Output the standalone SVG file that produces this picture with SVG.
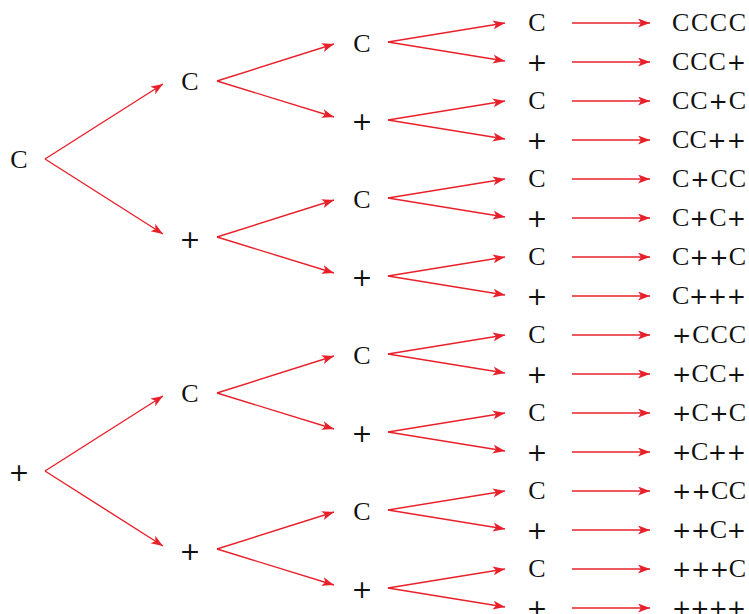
<svg xmlns="http://www.w3.org/2000/svg" width="749" height="614" viewBox="0 0 749 614">
<style>
text{font-family:"Liberation Serif","Times New Roman",serif;font-size:26px;fill:#111;}
.n text{text-anchor:middle;}
.p{font-family:"DejaVu Sans","Liberation Sans",sans-serif;font-size:25px;}
.q{font-family:"DejaVu Sans","Liberation Sans",sans-serif;font-size:23px;}
.a line{stroke:#e8202a;stroke-width:1.4;fill:none;marker-end:url(#ah);}
</style>
<defs>
<marker id="ah" markerUnits="userSpaceOnUse" markerWidth="14" markerHeight="10" refX="12" refY="4.5" orient="auto">
<path d="M0,0 L12,4.5 L0,9 L3,4.5 Z" fill="#e8202a"/>
</marker>
</defs>
<rect width="749" height="614" fill="#fff"/>
<g id="connectors" class="a">
<line x1="45" y1="159" x2="163" y2="84"/>
<line x1="45" y1="159" x2="163" y2="234"/>
<line x1="45" y1="471" x2="163" y2="396"/>
<line x1="45" y1="471" x2="163" y2="546"/>
<line x1="217" y1="81" x2="334" y2="44"/>
<line x1="217" y1="81" x2="334" y2="117"/>
<line x1="217" y1="237" x2="334" y2="200"/>
<line x1="217" y1="237" x2="334" y2="273"/>
<line x1="217" y1="393" x2="334" y2="356"/>
<line x1="217" y1="393" x2="334" y2="429"/>
<line x1="217" y1="549" x2="334" y2="512"/>
<line x1="217" y1="549" x2="334" y2="585"/>
<line x1="388" y1="42" x2="505" y2="23"/>
<line x1="388" y1="42" x2="505" y2="61"/>
<line x1="388" y1="120" x2="505" y2="101"/>
<line x1="388" y1="120" x2="505" y2="139"/>
<line x1="388" y1="198" x2="505" y2="179"/>
<line x1="388" y1="198" x2="505" y2="217"/>
<line x1="388" y1="276" x2="505" y2="257"/>
<line x1="388" y1="276" x2="505" y2="295"/>
<line x1="388" y1="354" x2="505" y2="335"/>
<line x1="388" y1="354" x2="505" y2="373"/>
<line x1="388" y1="432" x2="505" y2="413"/>
<line x1="388" y1="432" x2="505" y2="451"/>
<line x1="388" y1="510" x2="505" y2="491"/>
<line x1="388" y1="510" x2="505" y2="529"/>
<line x1="388" y1="588" x2="505" y2="569"/>
<line x1="388" y1="588" x2="505" y2="607"/>
<line x1="572" y1="23" x2="650" y2="23"/>
<line x1="572" y1="62" x2="650" y2="62"/>
<line x1="572" y1="101" x2="650" y2="101"/>
<line x1="572" y1="140" x2="650" y2="140"/>
<line x1="572" y1="179" x2="650" y2="179"/>
<line x1="572" y1="218" x2="650" y2="218"/>
<line x1="572" y1="257" x2="650" y2="257"/>
<line x1="572" y1="296" x2="650" y2="296"/>
<line x1="572" y1="335" x2="650" y2="335"/>
<line x1="572" y1="374" x2="650" y2="374"/>
<line x1="572" y1="413" x2="650" y2="413"/>
<line x1="572" y1="452" x2="650" y2="452"/>
<line x1="572" y1="491" x2="650" y2="491"/>
<line x1="572" y1="530" x2="650" y2="530"/>
<line x1="572" y1="569" x2="650" y2="569"/>
<line x1="572" y1="608" x2="650" y2="608"/>
</g>
<g class="n">
<g id="n0-C"><text x="19" y="168">C</text></g>
<g id="n0-P"><text class="p" x="19" y="481">+</text></g>
<g id="n1-C"><text x="190" y="90">C</text></g>
<g id="n1-CP"><text class="p" x="190" y="248">+</text></g>
<g id="n1-PC"><text x="190" y="402">C</text></g>
<g id="n1-PP"><text class="p" x="190" y="560">+</text></g>
<g id="n2-CC"><text x="362" y="52">C</text></g>
<g id="n2-CP"><text class="p" x="362" y="130">+</text></g>
<g id="n2-PC"><text x="362" y="208">C</text></g>
<g id="n2-PP"><text class="p" x="362" y="286">+</text></g>
<g id="n2-2CC"><text x="362" y="364">C</text></g>
<g id="n2-2CP"><text class="p" x="362" y="442">+</text></g>
<g id="n2-2PC"><text x="362" y="520">C</text></g>
<g id="n2-2PP"><text class="p" x="362" y="598">+</text></g>
<g id="n3-0"><text x="537" y="31">C</text></g>
<g id="n3-1"><text class="p" x="537" y="71">+</text></g>
<g id="n3-2"><text x="537" y="109">C</text></g>
<g id="n3-3"><text class="p" x="537" y="149">+</text></g>
<g id="n3-4"><text x="537" y="187">C</text></g>
<g id="n3-5"><text class="p" x="537" y="227">+</text></g>
<g id="n3-6"><text x="537" y="265">C</text></g>
<g id="n3-7"><text class="p" x="537" y="305">+</text></g>
<g id="n3-8"><text x="537" y="343">C</text></g>
<g id="n3-9"><text class="p" x="537" y="383">+</text></g>
<g id="n3-10"><text x="537" y="421">C</text></g>
<g id="n3-11"><text class="p" x="537" y="461">+</text></g>
<g id="n3-12"><text x="537" y="499">C</text></g>
<g id="n3-13"><text class="p" x="537" y="539">+</text></g>
<g id="n3-14"><text x="537" y="577">C</text></g>
<g id="n3-15"><text class="p" x="537" y="617">+</text></g>
</g>
<g>
<g id="r0"><text x="672" y="31" textLength="74" lengthAdjust="spacing">CCCC</text></g>
<g id="r1"><text x="672" y="70" textLength="74" lengthAdjust="spacing">CCC<tspan class="q">+</tspan></text></g>
<g id="r2"><text x="672" y="109" textLength="74" lengthAdjust="spacing">CC<tspan class="q">+</tspan>C</text></g>
<g id="r3"><text x="672" y="148" textLength="74" lengthAdjust="spacing">CC<tspan class="q">++</tspan></text></g>
<g id="r4"><text x="672" y="187" textLength="74" lengthAdjust="spacing">C<tspan class="q">+</tspan>CC</text></g>
<g id="r5"><text x="672" y="226" textLength="74" lengthAdjust="spacing">C<tspan class="q">+</tspan>C<tspan class="q">+</tspan></text></g>
<g id="r6"><text x="672" y="265" textLength="74" lengthAdjust="spacing">C<tspan class="q">++</tspan>C</text></g>
<g id="r7"><text x="672" y="304" textLength="74" lengthAdjust="spacing">C<tspan class="q">+++</tspan></text></g>
<g id="r8"><text x="672" y="343" textLength="74" lengthAdjust="spacing"><tspan class="q">+</tspan>CCC</text></g>
<g id="r9"><text x="672" y="382" textLength="74" lengthAdjust="spacing"><tspan class="q">+</tspan>CC<tspan class="q">+</tspan></text></g>
<g id="r10"><text x="672" y="421" textLength="74" lengthAdjust="spacing"><tspan class="q">+</tspan>C<tspan class="q">+</tspan>C</text></g>
<g id="r11"><text x="672" y="460" textLength="74" lengthAdjust="spacing"><tspan class="q">+</tspan>C<tspan class="q">++</tspan></text></g>
<g id="r12"><text x="672" y="499" textLength="74" lengthAdjust="spacing"><tspan class="q">++</tspan>CC</text></g>
<g id="r13"><text x="672" y="538" textLength="74" lengthAdjust="spacing"><tspan class="q">++</tspan>C<tspan class="q">+</tspan></text></g>
<g id="r14"><text x="672" y="577" textLength="74" lengthAdjust="spacing"><tspan class="q">+++</tspan>C</text></g>
<g id="r15"><text x="672" y="616" textLength="74" lengthAdjust="spacing"><tspan class="q">++++</tspan></text></g>
</g>
</svg>
